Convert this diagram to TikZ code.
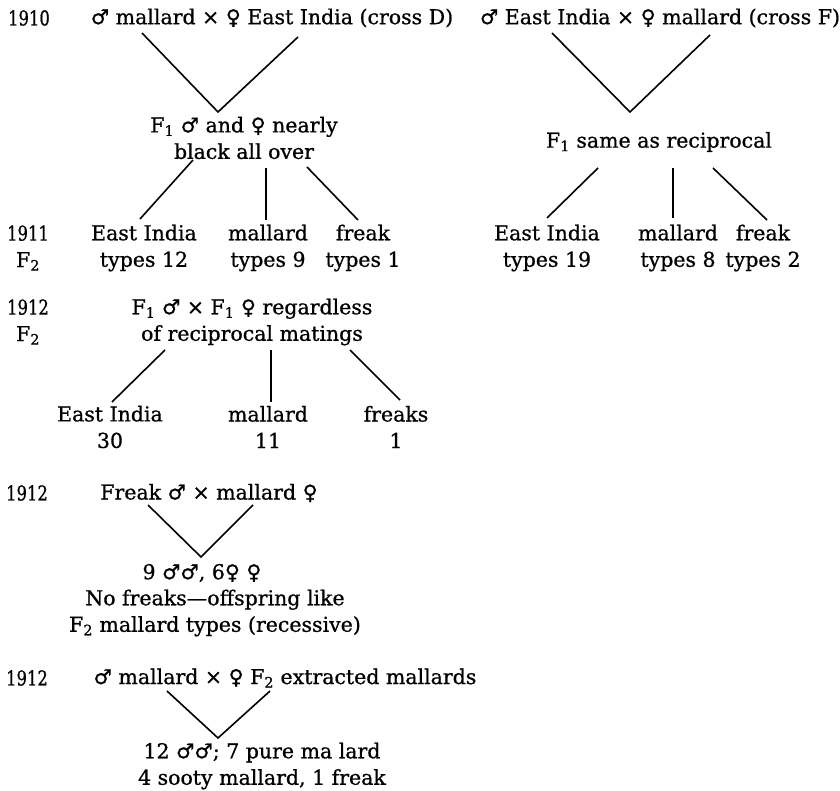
\documentclass[tikz,border=0pt]{standalone}
\usepackage{fontspec}
\setmainfont{DejaVu Serif}[FakeBold=0.8]
\newfontfamily\symfont{DejaVu Sans}[FakeBold=0.8]
\usetikzlibrary{calc}
\newcommand{\drake}{{\symfont ♂}}
\newcommand{\duck}{{\symfont ♀}}
\newcommand{\yr}[1]{\scalebox{0.8}[1]{#1}}
\tikzstyle{every node}=[inner sep=0pt,align=center,font=\fontsize{20.5}{26.5}\selectfont]

\begin{document}
\begin{tikzpicture}[x=1pt,y=-1pt,line width=1.6pt]
	\useasboundingbox (0,0) rectangle (840,791);
	% 1910 crosses
	\node (y1910) at (29,18) {\yr{1910}};
	\node (crossD) at (272,18) {\drake{} mallard × \duck{} East India (cross D)};
	\node (crossF) at (660,18) {\drake{} East India × \duck{} mallard (cross F)};
	\coordinate (apxD) at (218,112);
	\coordinate (apxF) at (630,112);
	\node (f1D) at (244,138) {F\textsubscript{1} \drake{} and \duck{} nearly\\black all over};
	\node (f1F) at (659,142) {F\textsubscript{1} same as reciprocal};
	\draw ($(crossD)+(-130,15)$) -- (apxD) -- ($(crossD)+(26,19)$);
	\draw ($(crossF)+(-108,15)$) -- (apxF) -- ($(crossF)+(50,17)$);
	% 1911 F2
	\node (y1911) at (28,248) {\yr{1911}\\F\textsubscript{2}};
	\node (eiD) at (144,248) {East India\\types 12};
	\node (mlD) at (268,248) {mallard\\types 9};
	\node (frD) at (363,248) {freak\\types 1};
	\node (eiF) at (547,248) {East India\\types 19};
	\node (mlF) at (678,248) {mallard\\types 8};
	\node (frF) at (763,248) {freak\\types 2};
	\draw ($(f1D)+(-51,22)$) -- ($(eiD)+(-4,-29)$);
	\draw ($(f1D)+(22,30)$) -- ($(mlD)+(-2,-28)$);
	\draw ($(f1D)+(63,29)$) -- ($(frD)+(-5,-28)$);
	\draw ($(f1F)+(-61,26)$) -- ($(eiF)+(0,-30)$);
	\draw ($(f1F)+(14,26)$) -- ($(mlF)+(-5,-30)$);
	\draw ($(f1F)+(54,26)$) -- ($(frF)+(4,-28)$);
	% 1912 F2
	\node (y1912a) at (28,322) {\yr{1912}\\F\textsubscript{2}};
	\node (f2) at (252,322) {F\textsubscript{1} \drake{} × F\textsubscript{1} \duck{} regardless\\of reciprocal matings};
	\node (ei2) at (110,427) {East India\\30};
	\node (ml2) at (268,427) {mallard\\11};
	\node (fr2) at (396,427) {freaks\\1};
	\draw ($(f2)+(-87,28)$) -- ($(ei2)+(2,-25)$);
	\draw ($(f2)+(19,28)$) -- ($(ml2)+(3,-25)$);
	\draw ($(f2)+(98,28)$) -- ($(fr2)+(4,-27)$);
	% 1912 freak x mallard
	\node (y1912b) at (27,493) {\yr{1912}};
	\node (frX) at (209,493) {Freak \drake{} × mallard \duck};
	\coordinate (apxX) at (201,557);
	\node (cntX) at (202,573) {9 \drake\drake, 6\duck{} \duck};
	\node (resX) at (215,613) {No freaks—offspring like\\F\textsubscript{2} mallard types (recessive)};
	\draw ($(frX)+(-61,12)$) -- (apxX) -- ($(frX)+(44,12)$);
	% 1912 mallard x extracted
	\node (y1912c) at (27,678) {\yr{1912}};
	\node (mX) at (285,678) {\drake{} mallard × \duck{} F\textsubscript{2} extracted mallards};
	\coordinate (apxM) at (218,738);
	\node (resM) at (262,766) {12 \drake\drake; 7 pure ma lard\\4 sooty mallard, 1 freak};
	\draw ($(mX)+(-118,13)$) -- (apxM) -- ($(mX)+(-15,13)$);
\end{tikzpicture}
\end{document}
